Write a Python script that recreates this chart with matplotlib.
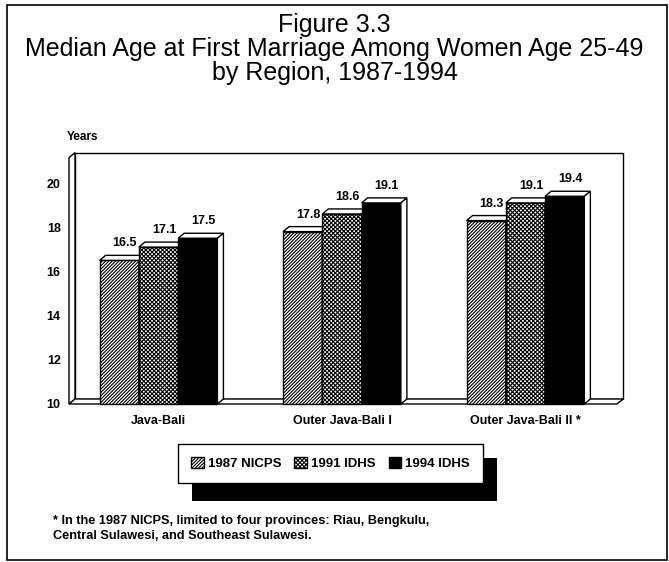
import matplotlib.pyplot as plt
from matplotlib.patches import Polygon, Rectangle, Patch

plt.rcParams['font.family'] = ['Liberation Sans', 'DejaVu Sans']
plt.rcParams['hatch.linewidth'] = 0.8

regions = ['Java-Bali', 'Outer Java-Bali I', 'Outer Java-Bali II *']
surveys = ['1987 NICPS', '1991 IDHS', '1994 IDHS']
nicps_1987 = [16.5, 17.8, 18.3]
idhs_1991 = [17.1, 18.6, 19.1]
idhs_1994 = [17.5, 19.1, 19.4]
yticks = [10, 12, 14, 16, 18, 20]

series = [nicps_1987, idhs_1991, idhs_1994]
hatches = ['//////////', 'xxxxxxxx', None]
faces = ['white', 'white', 'black']

W, H = 669, 562
fig = plt.figure(figsize=(W / 100, H / 100), dpi=100)

# front plane of the plot, in pixels
x_left, x_right = 69, 617
y_base, px_per_year = 404, 22.1
ymin, ymax = 10, 21.15
ax = fig.add_axes([x_left / W, (H - y_base) / H, (x_right - x_left) / W,
                   (ymax - ymin) * px_per_year / H])
xmin, xmax = -0.488, 2.499
ax.set_xlim(xmin, xmax)
ax.set_ylim(ymin, ymax)
for s in ax.spines.values():
    s.set_visible(False)

# depth offset of the fake 3d look, converted to data units
px_x = (x_right - x_left) / (xmax - xmin)
ddx, ddy = 6 / px_x, 5 / px_per_year


def poly(pts, fc, z):
    ax.add_patch(Polygon(pts, closed=True, facecolor=fc, edgecolor='black',
                         linewidth=1, zorder=z, clip_on=False))


# back wall, left wall and floor
poly([(xmin + ddx, ymin + ddy), (xmax + ddx, ymin + ddy),
      (xmax + ddx, ymax + ddy), (xmin + ddx, ymax + ddy)], 'white', 0.5)
poly([(xmin, ymin), (xmin + ddx, ymin + ddy),
      (xmin + ddx, ymax + ddy), (xmin, ymax)], 'white', 0.6)
poly([(xmin, ymin), (xmax, ymin), (xmax + ddx, ymin + ddy),
      (xmin + ddx, ymin + ddy)], 'white', 0.7)

bw = 0.214
for g in range(len(regions)):
    for k in range(len(series)):
        h = series[k][g]
        x0 = g + (k - 1) * bw - bw / 2
        x1 = x0 + bw
        z = 2 + g * 0.1 + k * 0.01
        ax.bar(x0, h - ymin, bottom=ymin, width=bw, align='edge',
               facecolor=faces[k], edgecolor='black', hatch=hatches[k],
               linewidth=1, zorder=z, clip_on=False)
        poly([(x0, h), (x1, h), (x1 + ddx, h + ddy), (x0 + ddx, h + ddy)],
             'white', z)
        poly([(x1, ymin), (x1 + ddx, ymin + ddy), (x1 + ddx, h + ddy),
              (x1, h)], 'white', z)
        ax.annotate(f'{h:.1f}', (x0 + bw / 2, h), xytext=(4, 12.2),
                    textcoords='offset points', ha='center', va='center',
                    fontsize=9, fontweight='bold', zorder=5)

ax.set_yticks(yticks)
ax.set_yticklabels([str(v) for v in yticks], fontsize=9, fontweight='bold')
ax.set_xticks(range(len(regions)))
ax.set_xticklabels(regions, fontsize=9, fontweight='bold')
ax.tick_params(axis='y', length=0, pad=6)
ax.tick_params(axis='x', length=0, pad=8)

fig.text(67 / W, 1 - 137 / H, 'Years', fontsize=8.5, fontweight='bold',
         va='center', ha='left')

# title
title_lines = ['Figure 3.3',
               'Median Age at First Marriage Among Women Age 25-49',
               'by Region, 1987-1994']
for i, line in enumerate(title_lines):
    fig.text(0.5, 1 - (25 + 24 * i) / H, line, fontsize=18,
             ha='center', va='center')

# legend with its black shadow block
fig.patches.append(Rectangle((192 / W, 1 - 501 / H), 305 / W, 43 / H,
                             transform=fig.transFigure, facecolor='black',
                             edgecolor='none', zorder=1))
handles = [Patch(facecolor=faces[k], edgecolor='black', hatch=hatches[k])
           for k in range(len(surveys))]
leg = fig.legend(handles, surveys, loc='center', ncol=3, mode='expand',
                 bbox_to_anchor=(178 / W, 1 - 483 / H, 305 / W, 39 / H),
                 borderaxespad=0,
                 prop={'size': 9.5, 'weight': 'bold'}, handlelength=0.95,
                 handleheight=0.95, handletextpad=0.3, columnspacing=0.7,
                 borderpad=1.0, fancybox=False, framealpha=1,
                 edgecolor='black')
leg.get_frame().set_linewidth(1)

fig.text(53 / W, 1 - 521 / H,
         '* In the 1987 NICPS, limited to four provinces: Riau, Bengkulu,',
         fontsize=9.2, fontweight='bold', va='center')
fig.text(53 / W, 1 - 536 / H, 'Central Sulawesi, and Southeast Sulawesi.',
         fontsize=9.2, fontweight='bold', va='center')

# outer frame
fig.patches.append(Rectangle((7 / W, 1 - 560 / H), 660 / W, 555 / H,
                             transform=fig.transFigure, fill=False,
                             edgecolor='black', linewidth=1.2, zorder=10))

fig.savefig('out.png', dpi=100)
